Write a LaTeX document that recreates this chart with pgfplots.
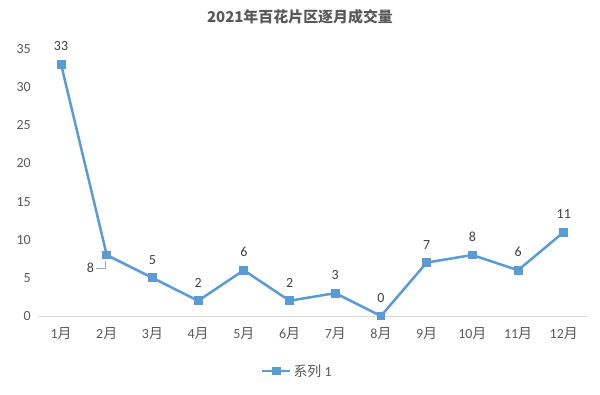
\documentclass[border=0pt]{standalone}
\usepackage{fontspec}
\setmainfont{Carlito}
\newfontfamily\cjk{Noto Sans CJK SC}
\usepackage{pgfplots}
\pgfplotsset{compat=1.18}
\definecolor{ser}{HTML}{5B9BD5}
\definecolor{txt}{HTML}{595959}
\definecolor{axl}{HTML}{D9D9D9}
\begin{document}
\begin{tikzpicture}[x=1bp,y=1bp]
\useasboundingbox (0,0) rectangle (600,394);
\fill[white] (0,0) rectangle (600,394);
\begin{axis}[
  at={(38.2bp,78bp)}, anchor=south west,
  scale only axis, width=548.4bp, height=267bp,
  xmin=-0.5, xmax=11.5, ymin=0, ymax=35,
  clip=false,
  axis line style={draw=none},
  axis x line*=bottom,
  xtick={0,...,11},
  xticklabels={1{\cjk 月},2{\cjk 月},3{\cjk 月},4{\cjk 月},5{\cjk 月},6{\cjk 月},7{\cjk 月},8{\cjk 月},9{\cjk 月},10{\cjk 月},11{\cjk 月},12{\cjk 月}},
  ytick={0,5,...,35},
  major tick length=0pt,
  tick label style={font=\fontsize{14}{16}\selectfont, text=txt},
  yticklabel style={xshift=-4bp},
  xticklabel style={yshift=-8bp},
  /pgf/number format/assume math mode=true,
  yticklabel={\pgfmathprintnumber[assume math mode=true]{\tick}},
  legend style={at={(0.4726,-0.206)}, anchor=center, draw=none, fill=none, font=\fontsize{14}{16}\selectfont\color{txt}},
  legend image code/.code={
    \draw[ser, line width=2.4bp] (0bp,0bp) -- (28bp,0bp);
    \fill[ser] (11bp,-3bp) rectangle (17bp,3bp);
  },
]
\draw[axl, line width=0.8bp] (axis cs:-0.5,0) -- (axis cs:11.5,0);
\addplot[color=ser, line width=2.5bp, mark=square*, mark size=3.2bp,
  nodes near coords, point meta=explicit symbolic,
  every node near coord/.append style={font=\fontsize{14}{16}\selectfont, text=black!75, yshift=9bp}]
  coordinates {
  (0,33) [33]
  (1,8) []
  (2,5) [5]
  (3,2) [2]
  (4,6) [6]
  (5,2) [2]
  (6,3) [3]
  (7,0) [0]
  (8,7) [7]
  (9,8) [8]
  (10,6) [6]
  (11,11) [11]
  };
\addlegendentry{\cjk 系列 \rmfamily 1}
\node[font=\fontsize{14}{16}\selectfont, text=black!75] at (axis cs:0.64,6.3) {8};
\draw[black!35, line width=0.6bp] (axis cs:0.77,6.3) -- (axis cs:0.96,6.3) -- (axis cs:0.96,7.2);
\end{axis}
\node[font=\cjk\bfseries\fontsize{15}{17}\selectfont, text=txt] at (300,377) {2021年百花片区逐月成交量};
\end{tikzpicture}
\end{document}
